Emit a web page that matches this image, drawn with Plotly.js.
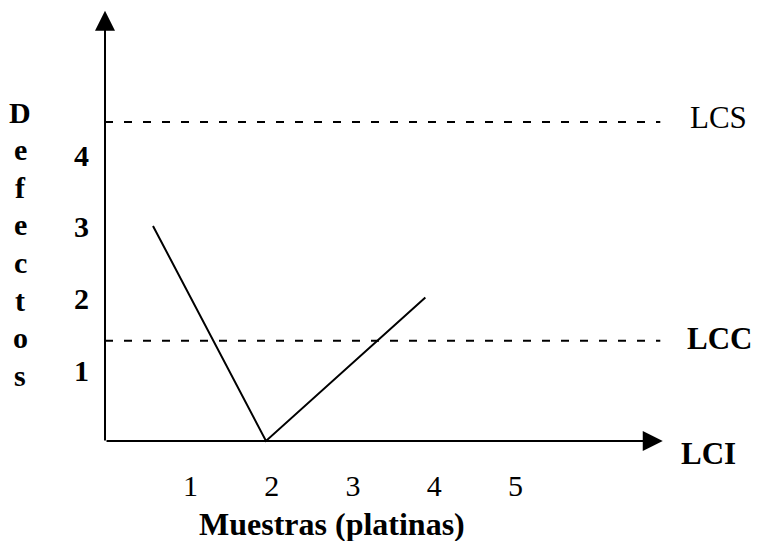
<!DOCTYPE html>
<html>
<head>
<meta charset="utf-8">
<script src="https://cdn.plot.ly/plotly-3.0.1.min.js"></script>
<style>html,body{margin:0;padding:0;background:#fff;}#chart{width:759px;height:541px;}</style>
</head>
<body>
<div id="chart"></div>
<script>
// ---- data ----
const muestras = [0.54, 1.93, 3.89];       // sample positions along x
const defectos = [3, 0, 2];                // defects per sample
const xTickVals = [1, 2, 3, 4, 5];
const xTickText = ['1', '2', '3', '4', '5'];
const yTickVals = [1, 2, 3, 4];
const yTickText = ['1', '2', '3', '4'];
const LCS = 4.45;   // upper control limit
const LCC = 1.4;    // central line
const LCI = 0;      // lower control limit (x axis)
const yTitle = 'Defectos';
const xTitle = 'Muestras (platinas)';

// ---- layout geometry (pixels) ----
const W = 759, H = 541;
const mL = 105, mR = 0, mT = 0, mB = 81;
const plotW = W - mL - mR, plotH = H - mT - mB;
const px2paperX = p => (p - mL) / plotW;
const px2paperY = p => (H - mB - p) / plotH;

const xRange = [-0.0504, 7.994];
const yRange = [-0.265, 6.151];
const xAxisEnd = 6.81;   // arrow tip of the horizontal axis
const yAxisEnd = 6.0;    // arrow tip of the vertical axis
const dashEnd = 6.78;

const serif = 'Liberation Serif, Times New Roman, serif';

const traces = [{
  x: muestras, y: defectos, type: 'scatter', mode: 'lines',
  line: {color: '#000', width: 2}, cliponaxis: false, hoverinfo: 'skip'
}];

const shapes = [LCS, LCC].map(v => ({
  type: 'line', xref: 'x', yref: 'y', x0: xRange[0], x1: dashEnd, y0: v, y1: v,
  line: {color: '#000', width: 2, dash: '8px,11px'}
}));

const annotations = [
  // vertical axis with arrow
  {xref: 'x', yref: 'y', axref: 'x', ayref: 'y', x: xRange[0], y: yAxisEnd,
   ax: xRange[0], ay: LCI - 0.014, text: '', showarrow: true,
   arrowhead: 2, arrowsize: 2, arrowwidth: 2, arrowcolor: '#000'},
  // horizontal axis with arrow
  {xref: 'x', yref: 'y', axref: 'x', ayref: 'y', x: xAxisEnd, y: LCI,
   ax: xRange[0], ay: LCI, text: '', showarrow: true,
   arrowhead: 2, arrowsize: 2, arrowwidth: 2, arrowcolor: '#000'},
  // x title
  {xref: 'paper', yref: 'paper', x: px2paperX(331.5), y: px2paperY(524),
   xanchor: 'center', yanchor: 'middle', showarrow: false, text: xTitle,
   font: {family: serif, size: 32, color: '#000', weight: 'bold'}},
  // limit labels
  {xref: 'paper', yref: 'y', x: px2paperX(688), y: LCS, yshift: 4,
   xanchor: 'left', yanchor: 'middle', showarrow: false, text: 'LCS',
   font: {family: serif, size: 31, color: '#000'}},
  {xref: 'paper', yref: 'y', x: px2paperX(685), y: LCC, yshift: 2,
   xanchor: 'left', yanchor: 'middle', showarrow: false, text: 'LCC',
   font: {family: serif, size: 31, color: '#000', weight: 'bold'}},
  {xref: 'paper', yref: 'y', x: px2paperX(679), y: LCI, yshift: -12,
   xanchor: 'left', yanchor: 'middle', showarrow: false, text: 'LCI',
   font: {family: serif, size: 31, color: '#000', weight: 'bold'}}
];

// stacked y title, one letter per line
yTitle.split('').forEach((ch, i) => {
  annotations.push({xref: 'paper', yref: 'paper', x: px2paperX(20), y: px2paperY(112 + i * 37.6),
    xanchor: 'center', yanchor: 'middle', showarrow: false, text: ch,
    font: {family: serif, size: 30, color: '#000', weight: 'bold'}});
});

const layout = {
  width: W, height: H,
  margin: {l: mL, r: mR, t: mT, b: mB, pad: 0},
  paper_bgcolor: '#fff', plot_bgcolor: '#fff',
  showlegend: false,
  xaxis: {range: xRange, showgrid: false, zeroline: false, showline: false,
          ticks: '', tickvals: xTickVals, ticktext: xTickText,
          ticklabelstandoff: 5,
          tickfont: {family: serif, size: 30, color: '#000'}, fixedrange: true},
  yaxis: {range: yRange, showgrid: false, zeroline: false, showline: false,
          ticks: '', tickvals: yTickVals, ticktext: yTickText,
          ticklabelstandoff: 15, ticklabelshift: 1,
          tickfont: {family: serif, size: 30, color: '#000', weight: 'bold'}, fixedrange: true},
  shapes: shapes,
  annotations: annotations
};

Plotly.newPlot('chart', traces, layout, {staticPlot: true, displayModeBar: false});
</script>
</body>
</html>
